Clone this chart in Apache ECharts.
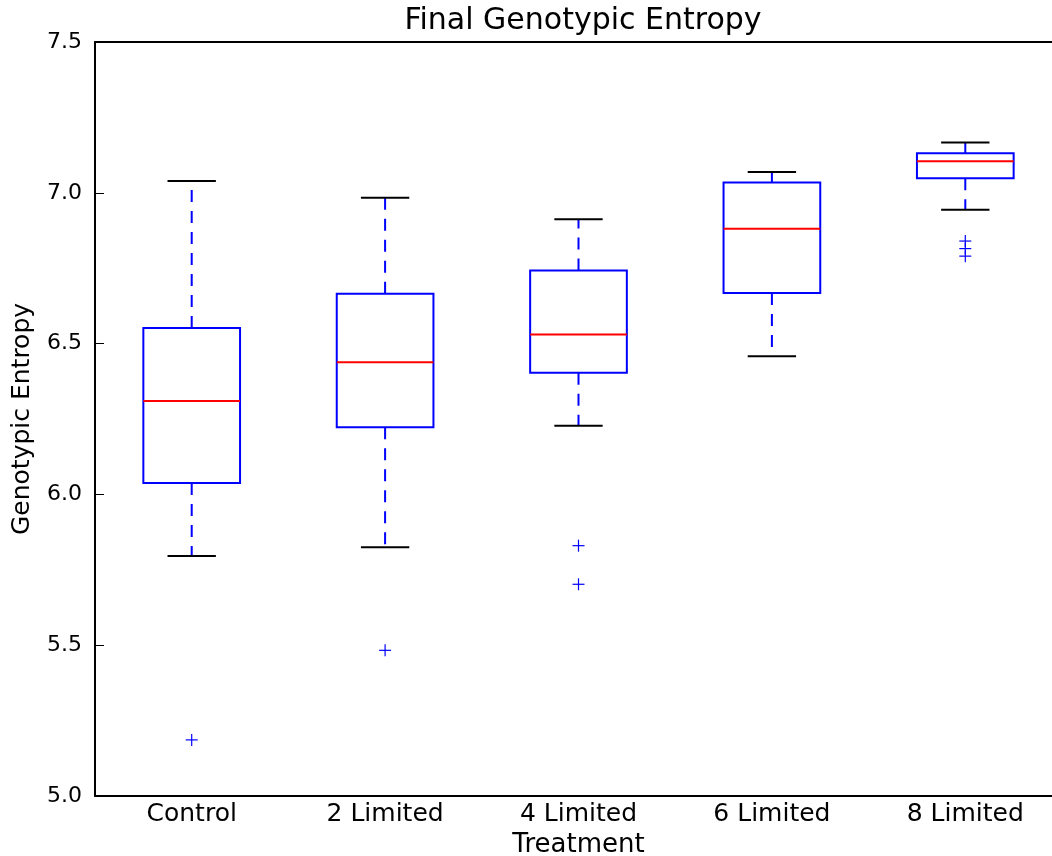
<!DOCTYPE html>
<html>
<head>
<meta charset="utf-8">
<title>Final Genotypic Entropy</title>
<script src="https://cdn.jsdelivr.net/npm/echarts@6/dist/echarts.min.js"></script>
<style>
  html, body { margin: 0; padding: 0; background: #fff; }
  #main { width: 1052px; height: 856px; }
</style>
</head>
<body>
<div id="main"></div>
<script>
  // values
  const categories = ['Control', '2 Limited', '4 Limited', '6 Limited', '8 Limited']
  const whiskerLow = [5.796, 5.825, 6.228, 6.458, 6.944]
  const q1 = [6.038, 6.223, 6.403, 6.668, 7.048]
  const median = [6.310, 6.438, 6.530, 6.881, 7.105]
  const q3 = [6.552, 6.665, 6.742, 7.034, 7.131]
  const whiskerHigh = [7.039, 6.984, 6.912, 7.069, 7.167]
  const outliers = [[0, 5.186], [1, 5.483], [2, 5.830], [2, 5.702], [4, 6.840], [4, 6.815], [4, 6.790]]
  const yTicks = [5.0, 5.5, 6.0, 6.5, 7.0, 7.5]

  const FONT = '"DejaVu Sans", sans-serif'
  const BLUE = '#0000ff'

  const boxData = categories.map((c, i) => [i, whiskerLow[i], q1[i], median[i], q3[i], whiskerHigh[i]])

  const chart = echarts.init(document.getElementById('main'))

  function renderBox(params, api) {
    const i = api.value(0)
    const band = api.size([1, 0])[0]
    const cx = api.coord([i, 0])[0]
    const yLo = api.coord([i, api.value(1)])[1]
    const yQ1 = api.coord([i, api.value(2)])[1]
    const yMed = api.coord([i, api.value(3)])[1]
    const yQ3 = api.coord([i, api.value(4)])[1]
    const yHi = api.coord([i, api.value(5)])[1]
    const hw = band * 0.25
    const cw = band * 0.125
    const dash = { stroke: BLUE, lineWidth: 2, lineDash: [12, 9] }
    return {
      type: 'group',
      children: [
        { type: 'line', shape: { x1: cx, y1: yQ3, x2: cx, y2: yHi }, style: dash },
        { type: 'line', shape: { x1: cx, y1: yQ1, x2: cx, y2: yLo }, style: dash },
        { type: 'line', shape: { x1: cx - cw, y1: yHi, x2: cx + cw, y2: yHi }, style: { stroke: '#000', lineWidth: 2 } },
        { type: 'line', shape: { x1: cx - cw, y1: yLo, x2: cx + cw, y2: yLo }, style: { stroke: '#000', lineWidth: 2 } },
        { type: 'rect', shape: { x: cx - hw, y: yQ3, width: hw * 2, height: yQ1 - yQ3 }, style: { fill: 'none', stroke: BLUE, lineWidth: 2 } },
        { type: 'line', shape: { x1: cx - hw, y1: yMed, x2: cx + hw, y2: yMed }, style: { stroke: '#ff0000', lineWidth: 2 } }
      ]
    }
  }

  function renderPlus(params, api) {
    const p = api.coord([api.value(0), api.value(1)])
    const s = 6
    return {
      type: 'group',
      children: [
        { type: 'line', shape: { x1: p[0] - s, y1: p[1], x2: p[0] + s, y2: p[1] }, style: { stroke: BLUE, lineWidth: 1.2 } },
        { type: 'line', shape: { x1: p[0], y1: p[1] - s, x2: p[0], y2: p[1] + s }, style: { stroke: BLUE, lineWidth: 1.2 } }
      ]
    }
  }

  chart.setOption({
    animation: false,
    textStyle: { fontFamily: FONT },
    title: {
      text: 'Final Genotypic Entropy',
      left: 578,
      textAlign: 'center',
      top: 1,
      textStyle: { fontFamily: FONT, fontSize: 30, fontWeight: 'normal', color: '#000' }
    },
    grid: { left: 95, right: -10, top: 42, bottom: 60, containLabel: false, outerBoundsMode: 'none' },
    xAxis: [
      {
        type: 'category',
        data: categories,
        position: 'bottom',
        name: 'Treatment',
        nameLocation: 'middle',
        nameGap: 33,
        nameTextStyle: { fontFamily: FONT, fontSize: 26, color: '#000' },
        axisLine: { lineStyle: { color: '#000', width: 2 } },
        axisTick: { inside: true, alignWithLabel: true, length: 9, lineStyle: { color: '#000', width: 1 } },
        axisLabel: { fontFamily: FONT, fontSize: 25, color: '#000', margin: 6 },
        splitLine: { show: false }
      },
      {
        type: 'category',
        data: categories,
        position: 'top',
        axisLine: { lineStyle: { color: '#000', width: 2 } },
        axisTick: { inside: true, alignWithLabel: true, length: 9, lineStyle: { color: '#000', width: 1 } },
        axisLabel: { show: false },
        splitLine: { show: false }
      }
    ],
    yAxis: {
      type: 'value',
      min: yTicks[0],
      max: yTicks[yTicks.length - 1],
      interval: 0.5,
      name: 'Genotypic Entropy',
      nameLocation: 'middle',
      nameGap: 60,
      nameTextStyle: { fontFamily: FONT, fontSize: 25, color: '#000' },
      axisLine: { show: true, lineStyle: { color: '#000', width: 2 } },
      axisTick: { show: true, inside: true, length: 9, lineStyle: { color: '#000', width: 1 } },
      axisLabel: { fontFamily: FONT, fontSize: 22, color: '#000', margin: 13, formatter: v => v.toFixed(1) },
      splitLine: { show: false }
    },
    series: [
      {
        type: 'custom',
        name: 'boxes',
        renderItem: renderBox,
        encode: { x: 0, y: [1, 2, 3, 4, 5] },
        data: boxData
      },
      {
        type: 'custom',
        name: 'outliers',
        renderItem: renderPlus,
        encode: { x: 0, y: 1 },
        data: outliers
      }
    ]
  })
</script>
</body>
</html>
